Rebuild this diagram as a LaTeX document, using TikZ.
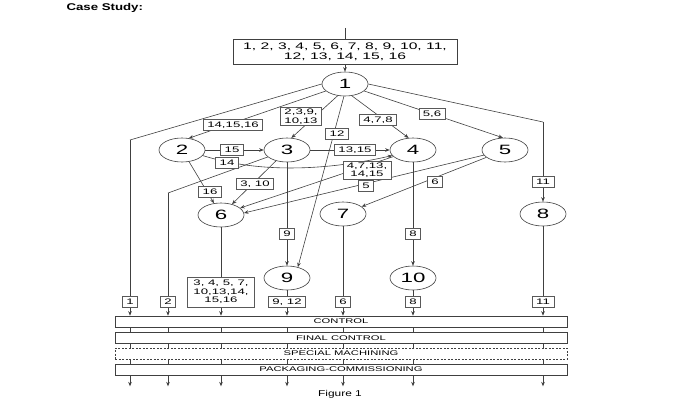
\documentclass[tikz,border=0pt]{standalone}
\usepackage{fontspec}
\setmainfont{Liberation Sans}[FakeStretch=1.65]
\newfontfamily\figfont{Liberation Sans}[FakeStretch=1.4]
\newfontfamily\csfont{Liberation Sans}[FakeStretch=1.35]
\usetikzlibrary{arrows.meta,shapes.geometric,calc}
\begin{document}
\begin{tikzpicture}[x=1pt,y=-1pt,
  ln/.style={draw=black!75, line width=0.6pt},
  arr/.style={ln, -{Stealth[length=4.5pt,width=3.6pt]}},
  proc/.style={ellipse, draw=black!75, line width=0.6pt, fill=white,
    minimum width=46pt, minimum height=24pt, inner sep=0pt,
    font=\fontsize{13.5}{14}\selectfont},
  lab/.style={draw=black!65, line width=0.55pt, fill=white, inner xsep=4pt,
    inner ysep=2pt, text height=6pt, text depth=1pt,
    font=\fontsize{8}{8.5}\selectfont, align=center},
  lab2/.style={draw=black!65, line width=0.55pt, fill=white, inner xsep=4pt,
    inner ysep=1.5pt, font=\fontsize{8}{8.5}\selectfont, align=center},
  bar/.style={draw=black!75, line width=0.6pt, fill=white,
    minimum width=452pt, minimum height=11pt, inner sep=0pt,
    font=\fontsize{6.8}{7}\selectfont},
]
\useasboundingbox (0,0) rectangle (700,404);

\node[font={\csfont\fontsize{9.8}{10}\selectfont\bfseries}, anchor=west] (title) at (63,8) {Case Study:};

\node[draw=black!75, line width=0.6pt, minimum width=224pt, minimum height=25pt,
  align=center, inner sep=1pt, font=\fontsize{9.5}{10}\selectfont] (top) at (345,51.5)
  {1, 2, 3, 4, 5, 6, 7, 8, 9, 10, 11,\\12, 13, 14, 15, 16};
\coordinate (in) at (345,28);

\node[proc] (n1) at (345,84) {1};
\node[proc] (n2) at (182,150) {2};
\node[proc] (n3) at (287,150) {3};
\node[proc] (n4) at (413,150) {4};
\node[proc] (n5) at (505,150) {5};
\node[proc] (n6) at (221,215) {6};
\node[proc] (n7) at (343,214) {7};
\node[proc] (n8) at (543,214) {8};
\node[proc] (n9) at (287,278) {9};
\node[proc] (n10) at (413,278) {10};

\coordinate (c1) at (130,140);
\coordinate (c2) at (168,193);
\coordinate (c8) at (543,122);
\coordinate (oy) at (0,302);

\node[bar] (ctrl) at (341,321.5) {CONTROL};
\node[bar] (fin) at (341,338) {FINAL CONTROL};
\node[bar, dash pattern=on 2pt off 1.5pt] (spec) at (341,353.5) {SPECIAL MACHINING};
\node[bar] (pack) at (341,369.5) {PACKAGING-COMMISSIONING};

% edges
\draw[ln] (in) -- (top);
\draw[arr] (top) -- (n1);
\draw[ln] (n1.west) -- (c1);
\draw[arr] (c1) -- (c1 |- ctrl.north);
\draw[arr] (n1.200) -- (n2.60);
\draw[arr] (n1.238) -- (n3.70);
\draw[arr] (n1.265) -- (n9.45);
\draw[arr] (n1.300) -- (n4.110);
\draw[arr] (n1.340) -- (n5.100);
\draw[ln] (n1.east) -- (c8);
\draw[arr] (c8) -- (n8);
\draw[arr] (n2) -- (n3);
\draw[arr] (n2.-15) .. controls (255,172) and (320,172) .. (n4.195);
\draw[arr] (n3) -- (n4);
\draw[arr] (n2) -- (n6);
\draw[arr] (n3) -- (n6);
\draw[ln] (n3) -- (c2);
\draw[arr] (c2) -- (c2 |- ctrl.north);
\draw[arr] (n3) -- (n9);
\draw[arr] (n4) -- (n10);
\draw[arr] (n4) -- (n6.20);
\draw[arr] (n5) -- (n6.5);
\draw[arr] (n5) -- (n7);
\foreach \c in {n6,n7,n8,n9,n10} {
  \draw[arr] (\c) -- (\c |- ctrl.north);
}
\foreach \c in {c1,c2,n6,n9,n7,n10,n8} {
  \draw[ln] (\c |- ctrl.south) -- (\c |- fin.north);
  \draw[ln] (\c |- fin.south) -- (\c |- spec.north);
  \draw[ln] (\c |- spec.south) -- (\c |- pack.north);
  \draw[arr] (\c |- pack.south) -- ++(0,11);
}

% labels
\node[lab] (l12) at (233,125) {14,15,16};
\node[lab2] (l13) at (301,116.5) {2,3,9,\\10,13};
\node[lab] (l19) at (337,134) {12};
\node[lab] (l14) at (378,120) {4,7,8};
\node[lab] (l15) at (432,113.5) {5,6};
\node[lab] (l18) at (543,182) {11};
\node[lab] (l23) at (232,150) {15};
\node[lab] (l24) at (227,162.5) {14};
\node[lab] (l26) at (210,192) {16};
\node[lab] (l36) at (255,184) {3, 10};
\node[lab] (l39) at (287,234) {9};
\node[lab] (l34) at (355,150) {13,15};
\node[lab2] (l46) at (367,170) {4,7,13,\\14,15};
\node[lab] (l56) at (366,186) {5};
\node[lab] (l57) at (435,182) {6};
\node[lab] (l410) at (413,234) {8};

\node[lab] (o1) at (c1 |- oy) {1};
\node[lab] (o2) at (c2 |- oy) {2};
\node[lab2, minimum width=67pt, minimum height=30pt] (o6) at (221,292) {3, 4, 5, 7,\\10,13,14,\\15,16};
\node[lab] (o9) at (n9 |- oy) {9, 12};
\node[lab] (o7) at (n7 |- oy) {6};
\node[lab] (o10) at (n10 |- oy) {8};
\node[lab] (o8) at (n8 |- oy) {11};

\node[font={\figfont\fontsize{8.5}{9}\selectfont}] (fig) at (340,394) {Figure 1};
\end{tikzpicture}
\end{document}
